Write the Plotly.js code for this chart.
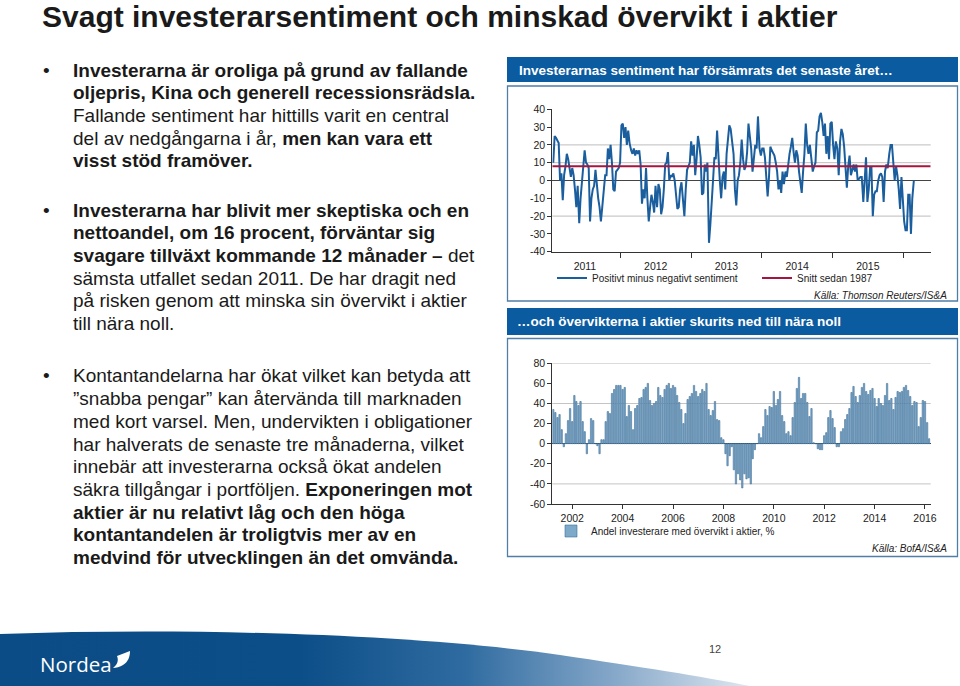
<!DOCTYPE html>
<html>
<head>
<meta charset="utf-8">
<script src="https://cdn.plot.ly/plotly-3.0.1.min.js"></script>
<style>
html,body{margin:0;padding:0;background:#fff;}
#wrap{position:relative;width:960px;height:686px;overflow:hidden;background:#fff;}
#deco{position:absolute;left:0;top:0;}
#chart{position:absolute;left:0;top:0;width:960px;height:686px;}
</style>
</head>
<body>
<div id="wrap">
<svg id="deco" width="960" height="686">
  <defs>
    <linearGradient id="fg" x1="0" x2="750" y1="0" y2="0" gradientUnits="userSpaceOnUse">
      <stop offset="0" stop-color="#0b4c86"/>
      <stop offset="0.4" stop-color="#0c4e88"/>
      <stop offset="0.62" stop-color="#2f6ba0"/>
      <stop offset="0.82" stop-color="#86a8c9"/>
      <stop offset="1" stop-color="#dfe7f0"/>
    </linearGradient>
  </defs>
  <path d="M0,634 C200,627 420,635 560,655 C640,667 700,676 750,686 L0,686 Z" fill="url(#fg)"/>
  <path d="M117,656 L130,651 C130,657 128,662 123,665 C120,667 116,668 113,668 C117,665 119,661 117,656 Z" fill="#fff"/>
</svg>
<div id="chart"></div>
</div>
<script>
// ---------- DATA ----------
// Weekly investor sentiment (positive minus negative), Jan 2011 - Feb 2016
var sent2011 = [10, 25, 24, 22, 21, 0, 4, -11, 3, 8, 15, 12, 8, 2, 7, 3, -5, -15, -3, -24, -10, 2, 8, 17, 10, 9, 7, -23, -10, -5, -3, 6, -5, -10, -15, -23, -15, -5, 3, 3, 18, 12, 20, 10, -5, -6, 5, 6, 7, 10];
var sent2012 = [31, 32, 24, 30, 20, 28, 21, 17, 15, 18, 14, 17, 15, 17, 9, -13, -5, -10, 7, -10, -23, -15, -8, -12, -18, -3, -15, -2, -5, -19, -15, -5, 9, 10, 16, 0, 3, 2, 4, 0, -10, -16, -15, -5, -1, -10, -20, -5, 6, 8, 10];
var sent2013 = [22, 14, 20, 3, 12, 25, 20, 13, -8, -7, 9, 5, 10, -35, -25, -15, 0, 13, 12, 28, 10, 0, -10, 2, 5, -5, 15, 25, 31, 29, 22, 15, -5, -14, 0, 3, 10, 23, 12, 6, 8, 16, 32, 24, 18, 5, 15, 20, 18, 36];
var sent2014 = [18, 14, 18, 18, 13, -2, -9, 2, 19, 17, 15, 14, 10, 5, -5, 0, -7, 5, -2, 5, 2, 10, 15, 19, 24, 16, 10, 17, 14, 5, 0, -7, 5, 15, 32, 20, 15, 20, 12, 5, 8, 10, 27, 28, 36, 38, 33, 25, 32, 15, 25, 12];
var sent2015 = [32, 33, 20, 12, 22, 18, 3, 22, 29, 26, 19, 10, -4, 8, 14, 3, 6, 9, 5, 9, 0, 1, 2, 2, -12, 0, 13, -12, -5, 7, 7, -20, -8, -6, -6, 0, 3, 4, 2, -12, 5, 9, 7, 15, 20, 20, 10, 0, 8, 3, -5, -16, 2];
var sent2016 = [-10, -23, -28, -28, -8, -8, -30, -10, 0];
var sentFirstDate = '2011-01-20';
var sentLastDate = '2016-02-25';
var sentMeanSince1987 = 8;
var sentTickVals = [-40, -30, -20, -10, 0, 10, 20, 30, 40];
var sentTickText = ['-40', '-30', '-20', '-10', '0', '10', '20', '30', '40'];

// Monthly share of investors overweight equities, % (Apr 2001 - Mar 2016)
var ow2001 = [34, 31, 26, 29, 14, -3, 10, 23, 35];           // Apr-Dec
var ow2002 = [22, 48, 42, 38, 42, 22, 12, -10, 4, 25, 23, 0];
var ow2003 = [-2, -10, 4, 4, 22, 32, 30, 50, 54, 58, 58, 58];
var ow2004 = [54, 56, 27, 38, 32, 14, 35, 38, 45, 46, 54, 56];
var ow2005 = [60, 43, 38, 40, 42, 56, 48, 46, 54, 58, 60, 55];
var ow2006 = [58, 56, 48, 41, 34, 20, 30, 44, 47, 50, 58, 52];
var ow2007 = [47, 50, 54, 52, 60, 34, 28, 33, 42, 24, 23, 6];
var ow2008 = [4, -10, -22, -12, -3, -26, -40, -30, -36, -44, -30, -35];
var ow2009 = [-34, -40, -15, -6, 0, 10, 6, 17, 34, 28, 37, 36];
var ow2010 = [52, 38, 44, 52, 28, 22, 10, 12, 8, 26, 41, 55];
var ow2011 = [66, 45, 50, 50, 41, 27, 35, 1, 0, -5, -6, -6];
var ow2012 = [8, 11, 26, 33, 25, 16, -3, -3, 12, 15, 24, 29];
var ow2013 = [35, 51, 57, 47, 41, 48, 56, 60, 52, 49, 53, 55];
var ow2014 = [45, 37, 45, 40, 38, 48, 60, 43, 45, 34, 46, 52];
var ow2015 = [51, 52, 56, 58, 53, 47, 38, 42, 41, 17, 26, 43];
var ow2016 = [42, 21, 5];                                     // Jan-Mar
var owYears = [2001, 2002, 2003, 2004, 2005, 2006, 2007, 2008, 2009, 2010, 2011, 2012, 2013, 2014, 2015, 2016];
var owStartMonth2001 = 4;
var owTickVals = [-60, -40, -20, 0, 20, 40, 60, 80];
var owTickText = ['-60', '-40', '-20', '0', '20', '40', '60', '80'];

// Texts
var slideTitle = 'Svagt investerarsentiment och minskad övervikt i aktier';
var topHeader = 'Investerarnas sentiment har försämrats det senaste året…';
var bottomHeader = '…och övervikterna i aktier skurits ned till nära noll';
var sentName = 'Positivt minus negativt sentiment';
var meanName = 'Snitt sedan 1987';
var owName = 'Andel investerare med övervikt i aktier, %';
var topSource = 'Källa: Thomson Reuters/IS&amp;A';
var bottomSource = 'Källa: BofA/IS&amp;A';
var bullet1 = [
  '<b>Investerarna är oroliga på grund av fallande</b>',
  '<b>oljepris, Kina och generell recessionsrädsla.</b>',
  'Fallande sentiment har hittills varit en central',
  'del av nedgångarna i år, <b>men kan vara ett</b>',
  '<b>visst stöd framöver.</b>'
];
var bullet2 = [
  '<b>Investerarna har blivit mer skeptiska och en</b>',
  '<b>nettoandel, om 16 procent, förväntar sig</b>',
  '<b>svagare tillväxt kommande 12 månader –</b> det',
  'sämsta utfallet sedan 2011. De har dragit ned',
  'på risken genom att minska sin övervikt i aktier',
  'till nära noll.'
];
var bullet3 = [
  'Kontantandelarna har ökat vilket kan betyda att',
  '”snabba pengar” kan återvända till marknaden',
  'med kort varsel. Men, undervikten i obligationer',
  'har halverats de senaste tre månaderna, vilket',
  'innebär att investerarna också ökat andelen',
  'säkra tillgångar i portföljen. <b>Exponeringen mot</b>',
  '<b>aktier är nu relativt låg och den höga</b>',
  '<b>kontantandelen är troligtvis mer av en</b>',
  '<b>medvind för utvecklingen än det omvända.</b>'
];
var pageNumber = '12';
var logoText = 'Nordea';

// ---------- BUILD ----------
var sentValues = [].concat(sent2011, sent2012, sent2013, sent2014, sent2015, sent2016);
var t0 = Date.parse(sentFirstDate), t1 = Date.parse(sentLastDate);
var sentDates = sentValues.map(function (v, i) {
  return new Date(t0 + (t1 - t0) * i / (sentValues.length - 1)).toISOString().slice(0, 10);
});

var owByYear = [ow2001, ow2002, ow2003, ow2004, ow2005, ow2006, ow2007, ow2008, ow2009, ow2010, ow2011, ow2012, ow2013, ow2014, ow2015, ow2016];
var owValues = [], owDates = [];
owByYear.forEach(function (arr, k) {
  var y = owYears[k];
  var m0 = (y === 2001) ? owStartMonth2001 : 1;
  arr.forEach(function (v, j) {
    var m = m0 + j;
    owValues.push(v);
    owDates.push(y + '-' + (m < 10 ? '0' : '') + m + '-01');
  });
});

var W = 960, H = 686;
function fx(x) { return x / W; }
function fy(y) { return 1 - y / H; }
var FONT = 'Liberation Sans, Arial, Helvetica, sans-serif';
var topRange = ['2011-01-15', '2016-05-22'];
var botRange = ['2001-03-18', '2016-03-24'];

var traces = [
  { type: 'scatter', mode: 'lines', x: sentDates, y: sentValues, xaxis: 'x', yaxis: 'y',
    name: sentName, line: { color: '#1b5e9e', width: 2 }, legend: 'legend' },
  { type: 'scatter', mode: 'lines', x: topRange, y: [sentMeanSince1987, sentMeanSince1987], xaxis: 'x', yaxis: 'y',
    name: meanName, line: { color: '#a4163f', width: 2.2 }, legend: 'legend' },
  { type: 'bar', x: owDates, y: owValues, xaxis: 'x2', yaxis: 'y2', name: owName,
    marker: { color: '#7eaac9', line: { color: '#3e6f98', width: 0.6 } }, legend: 'legend2' }
];

function T(x, y, text, size, opts) {
  var a = { xref: 'paper', yref: 'paper', x: fx(x), y: fy(y), xanchor: 'left', yanchor: 'middle',
    text: text, showarrow: false, font: { family: FONT, size: size, color: '#1a1a1a' } };
  if (opts) for (var k in opts) { if (k === 'font') { for (var f in opts.font) a.font[f] = opts.font[f]; } else a[k] = opts[k]; }
  return a;
}

var ann = [];
ann.push(T(40, 16, '<b>' + slideTitle + '</b>', 30));
function addBullet(lines, yStart) {
  ann.push(T(41, yStart, '•', 19));
  lines.forEach(function (l, i) { ann.push(T(71, yStart + i * 22.7, l, 19)); });
}
addBullet(bullet1, 70);
addBullet(bullet2, 210);
addBullet(bullet3, 376);
ann.push(T(517, 70, '<b>' + topHeader + '</b>', 13.5, { font: { color: '#ffffff' } }));
ann.push(T(515, 321, '<b>' + bottomHeader + '</b>', 13.5, { font: { color: '#ffffff' } }));
ann.push(T(949, 295, '<i>' + topSource + '</i>', 10, { xanchor: 'right', font: { color: '#222' } }));
ann.push(T(949, 548, '<i>' + bottomSource + '</i>', 10, { xanchor: 'right', font: { color: '#222' } }));
ann.push(T(715, 649, pageNumber, 11, { xanchor: 'center', font: { color: '#444' } }));
ann.push(T(38, 664, logoText, 20.5, { font: { color: '#ffffff', family: 'Open Sans, Noto Sans, sans-serif' } }));

var shapes = [];
function rectPx(x0, y0, x1, y1, fill, lineColor, lw) {
  shapes.push({ type: 'rect', xref: 'paper', yref: 'paper', x0: fx(x0), x1: fx(x1), y0: fy(y1), y1: fy(y0),
    fillcolor: fill, line: { color: lineColor || 'rgba(0,0,0,0)', width: lw || 0 }, layer: 'below' });
}
rectPx(507, 57, 958, 82, '#0b5ba0');
rectPx(507.5, 86, 957.5, 301, 'rgba(0,0,0,0)', '#4f7ea6', 1.3);
rectPx(507, 308, 958, 335, '#0b5ba0');
rectPx(507.5, 338.5, 957.5, 556.5, 'rgba(0,0,0,0)', '#4f7ea6', 1.3);
[20, 10, -20].forEach(function (v) {
  shapes.push({ type: 'line', xref: 'x domain', yref: 'y', x0: 0, x1: 1, y0: v, y1: v, line: { color: '#bdbdbd', width: 1 }, layer: 'below' });
});
[80, 40, -40].forEach(function (v) {
  shapes.push({ type: 'line', xref: 'x2 domain', yref: 'y2', x0: 0, x1: 1, y0: v, y1: v, line: { color: '#c4c4c4', width: 1 }, layer: 'below' });
});

var axisCommon = { showgrid: false, ticks: 'outside', ticklen: 4, tickcolor: '#333', showline: true, linecolor: '#333',
  linewidth: 1, tickfont: { family: FONT, size: 10.5, color: '#222' }, fixedrange: true };

var layout = {
  width: W, height: H, margin: { l: 0, r: 0, t: 0, b: 0, autoexpand: false },
  paper_bgcolor: 'rgba(0,0,0,0)', plot_bgcolor: 'rgba(0,0,0,0)',
  font: { family: FONT, size: 10, color: '#222' },
  showlegend: true, bargap: 0.3,
  xaxis: Object.assign({}, axisCommon, { domain: [fx(552.3), fx(930.7)], anchor: 'y', type: 'date', range: topRange,
    tick0: '2011-01-01', dtick: 'M12', tickformat: '%Y', ticklabelmode: 'period', ticklen: 5, zeroline: false, automargin: false }),
  yaxis: Object.assign({}, axisCommon, { domain: [fy(251.7), fy(109.3)], anchor: 'x', range: [-40, 40],
    tickmode: 'array', tickvals: sentTickVals, ticktext: sentTickText, automargin: false,
    zeroline: true, zerolinecolor: '#444', zerolinewidth: 1 }),
  xaxis2: Object.assign({}, axisCommon, { domain: [fx(552.3), fx(930.7)], anchor: 'y2', type: 'date', range: botRange,
    tick0: '2002-01-01', dtick: 'M24', tickformat: '%Y', zeroline: false, automargin: false }),
  yaxis2: Object.assign({}, axisCommon, { domain: [fy(504), fy(363.3)], anchor: 'x2', range: [-60, 80],
    tickmode: 'array', tickvals: owTickVals, ticktext: owTickText, automargin: false,
    zeroline: true, zerolinecolor: '#2f4b63', zerolinewidth: 1 }),
  legend: { orientation: 'h', x: fx(552), xanchor: 'left', y: fy(278), yanchor: 'middle', bgcolor: 'rgba(0,0,0,0)',
    font: { family: FONT, size: 10, color: '#222' }, itemwidth: 30, entrywidth: 160, entrywidthmode: 'pixels' },
  legend2: { orientation: 'h', x: fx(551), xanchor: 'left', y: fy(531), yanchor: 'middle', bgcolor: 'rgba(0,0,0,0)',
    font: { family: FONT, size: 10, color: '#222' }, itemwidth: 30 },
  annotations: ann,
  shapes: shapes
};

Plotly.newPlot('chart', traces, layout, { displayModeBar: false, staticPlot: true });
</script>
</body>
</html>
